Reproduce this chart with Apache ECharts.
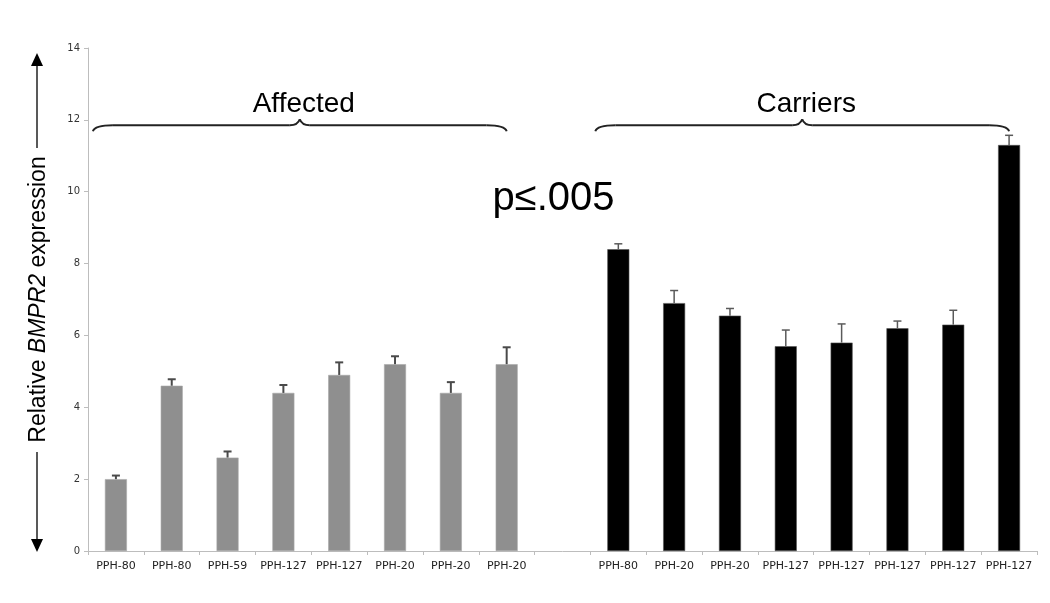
<!DOCTYPE html>
<html>
<head>
<meta charset="utf-8">
<script src="https://cdn.jsdelivr.net/npm/echarts@6/dist/echarts.min.js"></script>
<style>
html,body{margin:0;padding:0;background:#fff;}
#chart{width:1050px;height:603px;}
</style>
</head>
<body>
<div id="chart"></div>
<script>
// ---- data ----
const categories = ['PPH-80','PPH-80','PPH-59','PPH-127','PPH-127','PPH-20','PPH-20','PPH-20','',
                    'PPH-80','PPH-20','PPH-20','PPH-127','PPH-127','PPH-127','PPH-127','PPH-127'];
const affectedValues = [2.0, 4.6, 2.6, 4.4, 4.9, 5.2, 4.4, 5.2];
const affectedErrors = [0.1, 0.18, 0.17, 0.22, 0.35, 0.22, 0.3, 0.47];
const carrierValues  = [8.4, 6.9, 6.55, 5.7, 5.8, 6.2, 6.3, 11.3];
const carrierErrors  = [0.15, 0.35, 0.2, 0.45, 0.52, 0.2, 0.4, 0.27];
const groupLabels = ['Affected', 'Carriers'];
const pLabel = 'p\u2264.005';
const yMin = 0, yMax = 14, yStep = 2;

const carrierOffset = affectedValues.length + 1; // one empty slot between groups
const nCat = categories.length;

const affectedData = [], carrierData = [], affErrData = [], carErrData = [];
for (let i = 0; i < nCat; i++) { affectedData.push(null); carrierData.push(null); }
affectedValues.forEach((v, i) => { affectedData[i] = v; affErrData.push([i, v, affectedErrors[i]]); });
carrierValues.forEach((v, i) => { carrierData[i + carrierOffset] = v; carErrData.push([i + carrierOffset, v, carrierErrors[i]]); });

function errRender(color, lw) {
  return function (params, api) {
    const x = api.value(0), v = api.value(1), e = api.value(2);
    const base = api.coord([x, v]);
    const top = api.coord([x, v + e]);
    const st = { stroke: color, lineWidth: lw };
    return {
      type: 'group',
      children: [
        { type: 'line', shape: { x1: base[0], y1: base[1], x2: top[0], y2: top[1] }, style: st },
        { type: 'line', shape: { x1: top[0] - 4, y1: top[1], x2: top[0] + 4, y2: top[1] }, style: st }
      ]
    };
  };
}

const chart = echarts.init(document.getElementById('chart'), null, { renderer: 'canvas' });
const FONT = 'Liberation Sans, Arial, sans-serif';

chart.setOption({
  animation: false,
  backgroundColor: '#fff',
  grid: { left: 88, right: 13, top: 48, bottom: 52 },
  xAxis: {
    type: 'category',
    data: categories,
    boundaryGap: true,
    axisLine: { lineStyle: { color: '#bdbdbd', width: 1 } },
    axisTick: { show: true, alignWithLabel: false, length: 4, lineStyle: { color: '#bdbdbd' } },
    axisLabel: { interval: 0, margin: 10, fontSize: 11, color: '#222', fontFamily: 'DejaVu Sans' }
  },
  yAxis: {
    type: 'value',
    min: yMin, max: yMax, interval: yStep,
    splitLine: { show: false },
    axisLine: { show: true, lineStyle: { color: '#bdbdbd', width: 1 } },
    axisTick: { show: true, length: 4, lineStyle: { color: '#bdbdbd' } },
    axisLabel: { fontSize: 10, color: '#333', margin: 8, fontFamily: 'DejaVu Sans' },
    name: 'Relative {i|BMPR2} expression',
    nameLocation: 'middle',
    nameGap: 38,
    nameTextStyle: {
      fontSize: 23, color: '#000', fontFamily: FONT,
      rich: { i: { fontSize: 23, fontStyle: 'italic', color: '#000', fontFamily: FONT } }
    }
  },
  series: [
    { name: 'Affected', type: 'bar', data: affectedData, barWidth: 22, barGap: '-100%',
      itemStyle: { color: '#8f8f8f', borderColor: '#a8a8a8', borderWidth: 0.6 }, z: 2 },
    { name: 'Carriers', type: 'bar', data: carrierData, barWidth: 22, barGap: '-100%',
      itemStyle: { color: '#000', borderColor: '#555', borderWidth: 0.6 }, z: 2 },
    { type: 'custom', data: affErrData, encode: { x: 0, y: 1 }, renderItem: errRender('#4a4a4a', 2), z: 3 },
    { type: 'custom', data: carErrData, encode: { x: 0, y: 1 }, renderItem: errRender('#5a5a5a', 1.5), z: 3 }
  ]
});

// ---- annotations positioned from the axes ----
function braceGraphic(x1, x2, yh, label) {
  const xm = (x1 + x2) / 2;
  const st = { stroke: '#222', lineWidth: 2, fill: null };
  const bz = (ax, ay, cx, cy, bx, by) => ({ type: 'bezierCurve',
    shape: { x1: ax, y1: ay, cpx1: cx, cpy1: cy, x2: bx, y2: by }, style: st, z: 10 });
  const ln = (ax, ay, bx, by) => ({ type: 'line', shape: { x1: ax, y1: ay, x2: bx, y2: by }, style: st, z: 10 });
  return [
    bz(x1, yh + 6, x1 + 2, yh, x1 + 20, yh),
    ln(x1 + 20, yh, xm - 10, yh),
    bz(xm - 10, yh, xm - 2, yh, xm, yh - 6),
    bz(xm, yh - 6, xm + 2, yh, xm + 10, yh),
    ln(xm + 10, yh, x2 - 20, yh),
    bz(x2 - 20, yh, x2 - 2, yh, x2, yh + 6),
    { type: 'text', x: xm + 4, y: yh - 21,
      style: { text: label, font: '28px ' + FONT, fill: '#000', align: 'center', verticalAlign: 'middle' }, z: 10 }
  ];
}

const px = (i, v) => chart.convertToPixel({ gridIndex: 0 }, [i, v]);
const yh = px(0, 11.85)[1];
const aL = px(0, 0)[0] - 23, aR = px(affectedValues.length - 1, 0)[0];
const cL = px(carrierOffset, 0)[0] - 23, cR = px(nCat - 1, 0)[0];
const pPos = px(carrierOffset - 1, 9.8);

const ax = 37;
const graphics = []
  .concat(braceGraphic(aL, aR, yh, groupLabels[0]))
  .concat(braceGraphic(cL, cR, yh, groupLabels[1]))
  .concat([
    { type: 'text', x: pPos[0] - 9, y: pPos[1],
      style: { text: pLabel, font: '40px ' + FONT, fill: '#000', align: 'center', verticalAlign: 'middle' }, z: 10 },
    { type: 'line', shape: { x1: ax, y1: 148, x2: ax, y2: 62 }, style: { stroke: '#222', lineWidth: 1.5 } },
    { type: 'polygon', shape: { points: [[ax, 53], [ax - 6, 66], [ax + 6, 66]] }, style: { fill: '#000' } },
    { type: 'line', shape: { x1: ax, y1: 452, x2: ax, y2: 542 }, style: { stroke: '#222', lineWidth: 1.5 } },
    { type: 'polygon', shape: { points: [[ax, 552], [ax - 6, 539], [ax + 6, 539]] }, style: { fill: '#000' } }
  ]);
chart.setOption({ graphic: graphics });
</script>
</body>
</html>
